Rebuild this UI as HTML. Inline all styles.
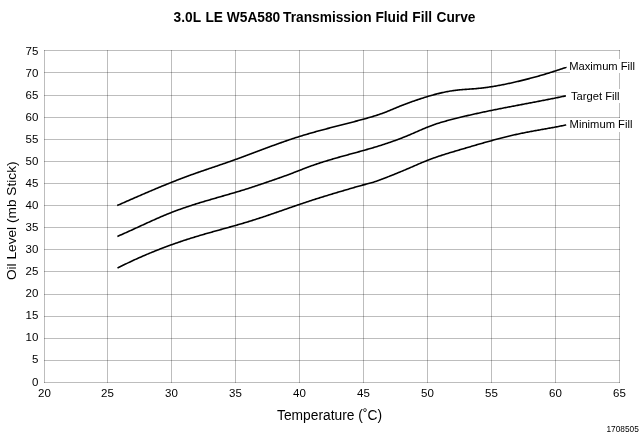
<!DOCTYPE html>
<html><head><meta charset="utf-8"><style>
html,body{margin:0;padding:0;background:#fff;}
body{width:640px;height:434px;overflow:hidden;}
svg{display:block;font-family:"Liberation Sans",sans-serif;will-change:transform;}
</style></head><body>
<svg width="640" height="434" viewBox="0 0 640 434">
<rect width="640" height="434" fill="#fff"/>
<g font-weight="bold" font-size="14.5" fill="#000"><text transform="translate(173.6,21.9) scale(0.947,1)">3.0L</text><text transform="translate(205.4,21.9) scale(0.947,1)">LE</text><text transform="translate(226.8,21.9) scale(0.947,1)">W5A580</text><text transform="translate(283.1,21.9) scale(0.947,1)">Transmission</text><text transform="translate(375.4,21.9) scale(0.947,1)">Fluid</text><text transform="translate(412.3,21.9) scale(0.947,1)">Fill</text><text transform="translate(436.5,21.9) scale(0.947,1)">Curve</text></g>
<g stroke="#000" stroke-opacity="0.26" stroke-width="1" fill="none" shape-rendering="crispEdges">
<line x1="44" y1="50.5" x2="620" y2="50.5"/>
<line x1="44" y1="72.5" x2="620" y2="72.5"/>
<line x1="44" y1="95.5" x2="620" y2="95.5"/>
<line x1="44" y1="117.5" x2="620" y2="117.5"/>
<line x1="44" y1="139.5" x2="620" y2="139.5"/>
<line x1="44" y1="161.5" x2="620" y2="161.5"/>
<line x1="44" y1="183.5" x2="620" y2="183.5"/>
<line x1="44" y1="205.5" x2="620" y2="205.5"/>
<line x1="44" y1="227.5" x2="620" y2="227.5"/>
<line x1="44" y1="249.5" x2="620" y2="249.5"/>
<line x1="44" y1="271.5" x2="620" y2="271.5"/>
<line x1="44" y1="294.5" x2="620" y2="294.5"/>
<line x1="44" y1="316.5" x2="620" y2="316.5"/>
<line x1="44" y1="338.5" x2="620" y2="338.5"/>
<line x1="44" y1="360.5" x2="620" y2="360.5"/>
<line x1="44" y1="382.5" x2="620" y2="382.5"/>
<line x1="44.5" y1="50" x2="44.5" y2="383"/>
<line x1="107.5" y1="50" x2="107.5" y2="383"/>
<line x1="171.5" y1="50" x2="171.5" y2="383"/>
<line x1="235.5" y1="50" x2="235.5" y2="383"/>
<line x1="299.5" y1="50" x2="299.5" y2="383"/>
<line x1="363.5" y1="50" x2="363.5" y2="383"/>
<line x1="427.5" y1="50" x2="427.5" y2="383"/>
<line x1="491.5" y1="50" x2="491.5" y2="383"/>
<line x1="555.5" y1="50" x2="555.5" y2="383"/>
<line x1="619.5" y1="50" x2="619.5" y2="383"/>
</g>
<g fill="#000" font-size="11.5">
<text x="38.4" y="55.20" text-anchor="end">75</text><text x="38.4" y="77.22" text-anchor="end">70</text><text x="38.4" y="99.24" text-anchor="end">65</text><text x="38.4" y="121.26" text-anchor="end">60</text><text x="38.4" y="143.28" text-anchor="end">55</text><text x="38.4" y="165.30" text-anchor="end">50</text><text x="38.4" y="187.32" text-anchor="end">45</text><text x="38.4" y="209.34" text-anchor="end">40</text><text x="38.4" y="231.36" text-anchor="end">35</text><text x="38.4" y="253.38" text-anchor="end">30</text><text x="38.4" y="275.40" text-anchor="end">25</text><text x="38.4" y="297.42" text-anchor="end">20</text><text x="38.4" y="319.44" text-anchor="end">15</text><text x="38.4" y="341.46" text-anchor="end">10</text><text x="38.4" y="363.48" text-anchor="end">5</text><text x="38.4" y="385.50" text-anchor="end">0</text>
<text x="44.5" y="397" text-anchor="middle">20</text><text x="107.5" y="397" text-anchor="middle">25</text><text x="171.5" y="397" text-anchor="middle">30</text><text x="235.5" y="397" text-anchor="middle">35</text><text x="299.5" y="397" text-anchor="middle">40</text><text x="363.5" y="397" text-anchor="middle">45</text><text x="427.5" y="397" text-anchor="middle">50</text><text x="491.5" y="397" text-anchor="middle">55</text><text x="555.5" y="397" text-anchor="middle">60</text><text x="619.5" y="397" text-anchor="middle">65</text>
</g>
<g fill="none" stroke="#000" stroke-width="1.6" stroke-linecap="butt" stroke-linejoin="round">
<path d="M117.2,205.50 L118.2,205.06 L119.2,204.62 L120.2,204.18 L121.2,203.74 L122.2,203.30 L123.2,202.86 L124.2,202.42 L125.2,201.98 L126.2,201.54 L127.2,201.10 L128.2,200.66 L129.2,200.22 L130.2,199.79 L131.2,199.35 L132.2,198.91 L133.2,198.47 L134.2,198.04 L135.2,197.60 L136.2,197.16 L137.2,196.73 L138.2,196.29 L139.2,195.86 L140.2,195.43 L141.2,194.99 L142.2,194.56 L143.2,194.13 L144.2,193.70 L145.2,193.27 L146.2,192.84 L147.2,192.41 L148.2,191.99 L149.2,191.56 L150.2,191.13 L151.2,190.71 L152.2,190.29 L153.2,189.86 L154.2,189.44 L155.2,189.02 L156.2,188.60 L157.2,188.19 L158.2,187.77 L159.2,187.35 L160.2,186.94 L161.2,186.53 L162.2,186.11 L163.2,185.70 L164.2,185.29 L165.2,184.89 L166.2,184.48 L167.2,184.07 L168.2,183.67 L169.2,183.27 L170.2,182.87 L171.2,182.47 L172.2,182.07 L173.2,181.68 L174.2,181.28 L175.2,180.89 L176.2,180.50 L177.2,180.11 L178.2,179.72 L179.2,179.34 L180.2,178.95 L181.2,178.57 L182.2,178.19 L183.2,177.81 L184.2,177.44 L185.2,177.06 L186.2,176.69 L187.2,176.32 L188.2,175.95 L189.2,175.59 L190.2,175.22 L191.2,174.86 L192.2,174.50 L193.2,174.14 L194.2,173.79 L195.2,173.43 L196.2,173.08 L197.2,172.73 L198.2,172.38 L199.2,172.03 L200.2,171.68 L201.2,171.34 L202.2,170.99 L203.2,170.65 L204.2,170.31 L205.2,169.96 L206.2,169.62 L207.2,169.28 L208.2,168.94 L209.2,168.60 L210.2,168.26 L211.2,167.92 L212.2,167.58 L213.2,167.24 L214.2,166.90 L215.2,166.57 L216.2,166.23 L217.2,165.89 L218.2,165.55 L219.2,165.20 L220.2,164.86 L221.2,164.52 L222.2,164.18 L223.2,163.83 L224.2,163.49 L225.2,163.14 L226.2,162.79 L227.2,162.45 L228.2,162.10 L229.2,161.74 L230.2,161.39 L231.2,161.04 L232.2,160.68 L233.2,160.32 L234.2,159.96 L235.2,159.60 L236.2,159.24 L237.2,158.88 L238.2,158.51 L239.2,158.15 L240.2,157.78 L241.2,157.41 L242.2,157.04 L243.2,156.67 L244.2,156.30 L245.2,155.93 L246.2,155.56 L247.2,155.19 L248.2,154.81 L249.2,154.44 L250.2,154.07 L251.2,153.69 L252.2,153.32 L253.2,152.94 L254.2,152.57 L255.2,152.20 L256.2,151.82 L257.2,151.45 L258.2,151.07 L259.2,150.70 L260.2,150.32 L261.2,149.95 L262.2,149.57 L263.2,149.20 L264.2,148.83 L265.2,148.45 L266.2,148.08 L267.2,147.71 L268.2,147.34 L269.2,146.97 L270.2,146.60 L271.2,146.24 L272.2,145.87 L273.2,145.50 L274.2,145.14 L275.2,144.78 L276.2,144.41 L277.2,144.05 L278.2,143.69 L279.2,143.34 L280.2,142.98 L281.2,142.63 L282.2,142.27 L283.2,141.92 L284.2,141.57 L285.2,141.22 L286.2,140.88 L287.2,140.53 L288.2,140.19 L289.2,139.85 L290.2,139.51 L291.2,139.18 L292.2,138.85 L293.2,138.51 L294.2,138.19 L295.2,137.86 L296.2,137.54 L297.2,137.22 L298.2,136.90 L299.2,136.58 L300.2,136.27 L301.2,135.96 L302.2,135.65 L303.2,135.35 L304.2,135.05 L305.2,134.75 L306.2,134.45 L307.2,134.15 L308.2,133.86 L309.2,133.57 L310.2,133.28 L311.2,133.00 L312.2,132.71 L313.2,132.43 L314.2,132.15 L315.2,131.87 L316.2,131.59 L317.2,131.32 L318.2,131.04 L319.2,130.77 L320.2,130.50 L321.2,130.23 L322.2,129.96 L323.2,129.69 L324.2,129.43 L325.2,129.16 L326.2,128.90 L327.2,128.63 L328.2,128.37 L329.2,128.11 L330.2,127.85 L331.2,127.59 L332.2,127.33 L333.2,127.07 L334.2,126.82 L335.2,126.56 L336.2,126.30 L337.2,126.04 L338.2,125.79 L339.2,125.53 L340.2,125.27 L341.2,125.02 L342.2,124.76 L343.2,124.50 L344.2,124.25 L345.2,123.99 L346.2,123.73 L347.2,123.48 L348.2,123.22 L349.2,122.96 L350.2,122.70 L351.2,122.44 L352.2,122.18 L353.2,121.92 L354.2,121.66 L355.2,121.39 L356.2,121.13 L357.2,120.86 L358.2,120.60 L359.2,120.33 L360.2,120.06 L361.2,119.79 L362.2,119.52 L363.2,119.25 L364.2,118.97 L365.2,118.70 L366.2,118.42 L367.2,118.14 L368.2,117.85 L369.2,117.57 L370.2,117.27 L371.2,116.98 L372.2,116.68 L373.2,116.38 L374.2,116.07 L375.2,115.76 L376.2,115.44 L377.2,115.12 L378.2,114.79 L379.2,114.45 L380.2,114.11 L381.2,113.76 L382.2,113.40 L383.2,113.04 L384.2,112.66 L385.2,112.28 L386.2,111.89 L387.2,111.50 L388.2,111.09 L389.2,110.69 L390.2,110.27 L391.2,109.86 L392.2,109.44 L393.2,109.02 L394.2,108.59 L395.2,108.17 L396.2,107.75 L397.2,107.33 L398.2,106.92 L399.2,106.51 L400.2,106.10 L401.2,105.70 L402.2,105.30 L403.2,104.91 L404.2,104.53 L405.2,104.15 L406.2,103.77 L407.2,103.40 L408.2,103.03 L409.2,102.67 L410.2,102.31 L411.2,101.95 L412.2,101.60 L413.2,101.25 L414.2,100.90 L415.2,100.55 L416.2,100.21 L417.2,99.87 L418.2,99.53 L419.2,99.20 L420.2,98.87 L421.2,98.54 L422.2,98.22 L423.2,97.90 L424.2,97.58 L425.2,97.26 L426.2,96.95 L427.2,96.65 L428.2,96.35 L429.2,96.05 L430.2,95.76 L431.2,95.47 L432.2,95.19 L433.2,94.91 L434.2,94.64 L435.2,94.37 L436.2,94.11 L437.2,93.85 L438.2,93.60 L439.2,93.35 L440.2,93.11 L441.2,92.88 L442.2,92.65 L443.2,92.43 L444.2,92.22 L445.2,92.01 L446.2,91.81 L447.2,91.62 L448.2,91.43 L449.2,91.25 L450.2,91.08 L451.2,90.92 L452.2,90.76 L453.2,90.62 L454.2,90.48 L455.2,90.35 L456.2,90.22 L457.2,90.11 L458.2,90.00 L459.2,89.90 L460.2,89.81 L461.2,89.72 L462.2,89.64 L463.2,89.56 L464.2,89.48 L465.2,89.41 L466.2,89.34 L467.2,89.27 L468.2,89.20 L469.2,89.13 L470.2,89.07 L471.2,89.00 L472.2,88.92 L473.2,88.85 L474.2,88.77 L475.2,88.69 L476.2,88.61 L477.2,88.52 L478.2,88.42 L479.2,88.32 L480.2,88.21 L481.2,88.10 L482.2,87.99 L483.2,87.87 L484.2,87.74 L485.2,87.61 L486.2,87.48 L487.2,87.34 L488.2,87.20 L489.2,87.05 L490.2,86.90 L491.2,86.75 L492.2,86.59 L493.2,86.43 L494.2,86.26 L495.2,86.09 L496.2,85.92 L497.2,85.74 L498.2,85.56 L499.2,85.38 L500.2,85.19 L501.2,85.00 L502.2,84.81 L503.2,84.61 L504.2,84.41 L505.2,84.21 L506.2,84.01 L507.2,83.80 L508.2,83.59 L509.2,83.38 L510.2,83.16 L511.2,82.94 L512.2,82.72 L513.2,82.50 L514.2,82.27 L515.2,82.05 L516.2,81.82 L517.2,81.58 L518.2,81.35 L519.2,81.11 L520.2,80.87 L521.2,80.63 L522.2,80.39 L523.2,80.14 L524.2,79.89 L525.2,79.64 L526.2,79.38 L527.2,79.13 L528.2,78.87 L529.2,78.61 L530.2,78.34 L531.2,78.08 L532.2,77.81 L533.2,77.54 L534.2,77.27 L535.2,76.99 L536.2,76.71 L537.2,76.43 L538.2,76.15 L539.2,75.87 L540.2,75.58 L541.2,75.29 L542.2,75.00 L543.2,74.70 L544.2,74.41 L545.2,74.11 L546.2,73.81 L547.2,73.50 L548.2,73.20 L549.2,72.89 L550.2,72.58 L551.2,72.27 L552.2,71.95 L553.2,71.63 L554.2,71.31 L555.2,70.99 L556.2,70.67 L557.2,70.34 L558.2,70.01 L559.2,69.68 L560.2,69.35 L561.2,69.01 L562.2,68.67 L563.2,68.33 L564.2,67.99 L565.2,67.64 L566.2,67.30 L566.5,67.19"/>
<path d="M117.4,236.40 L118.4,235.97 L119.4,235.54 L120.4,235.10 L121.4,234.66 L122.4,234.22 L123.4,233.78 L124.4,233.33 L125.4,232.89 L126.4,232.44 L127.4,231.99 L128.4,231.53 L129.4,231.08 L130.4,230.63 L131.4,230.17 L132.4,229.71 L133.4,229.25 L134.4,228.80 L135.4,228.34 L136.4,227.88 L137.4,227.41 L138.4,226.95 L139.4,226.49 L140.4,226.03 L141.4,225.57 L142.4,225.11 L143.4,224.65 L144.4,224.19 L145.4,223.73 L146.4,223.28 L147.4,222.82 L148.4,222.36 L149.4,221.91 L150.4,221.46 L151.4,221.00 L152.4,220.55 L153.4,220.11 L154.4,219.66 L155.4,219.22 L156.4,218.77 L157.4,218.33 L158.4,217.90 L159.4,217.46 L160.4,217.03 L161.4,216.60 L162.4,216.17 L163.4,215.75 L164.4,215.33 L165.4,214.91 L166.4,214.50 L167.4,214.09 L168.4,213.69 L169.4,213.29 L170.4,212.89 L171.4,212.49 L172.4,212.11 L173.4,211.72 L174.4,211.34 L175.4,210.96 L176.4,210.59 L177.4,210.22 L178.4,209.85 L179.4,209.49 L180.4,209.13 L181.4,208.78 L182.4,208.43 L183.4,208.08 L184.4,207.74 L185.4,207.39 L186.4,207.05 L187.4,206.72 L188.4,206.39 L189.4,206.06 L190.4,205.73 L191.4,205.40 L192.4,205.08 L193.4,204.76 L194.4,204.44 L195.4,204.13 L196.4,203.81 L197.4,203.50 L198.4,203.19 L199.4,202.89 L200.4,202.58 L201.4,202.28 L202.4,201.97 L203.4,201.67 L204.4,201.37 L205.4,201.08 L206.4,200.78 L207.4,200.48 L208.4,200.19 L209.4,199.90 L210.4,199.61 L211.4,199.31 L212.4,199.02 L213.4,198.73 L214.4,198.44 L215.4,198.16 L216.4,197.87 L217.4,197.58 L218.4,197.29 L219.4,197.00 L220.4,196.72 L221.4,196.43 L222.4,196.14 L223.4,195.86 L224.4,195.57 L225.4,195.28 L226.4,194.99 L227.4,194.70 L228.4,194.41 L229.4,194.12 L230.4,193.83 L231.4,193.54 L232.4,193.25 L233.4,192.96 L234.4,192.66 L235.4,192.37 L236.4,192.07 L237.4,191.77 L238.4,191.47 L239.4,191.17 L240.4,190.87 L241.4,190.57 L242.4,190.26 L243.4,189.95 L244.4,189.65 L245.4,189.33 L246.4,189.02 L247.4,188.71 L248.4,188.39 L249.4,188.07 L250.4,187.75 L251.4,187.42 L252.4,187.10 L253.4,186.77 L254.4,186.44 L255.4,186.11 L256.4,185.77 L257.4,185.44 L258.4,185.10 L259.4,184.76 L260.4,184.42 L261.4,184.08 L262.4,183.74 L263.4,183.40 L264.4,183.06 L265.4,182.71 L266.4,182.37 L267.4,182.03 L268.4,181.68 L269.4,181.34 L270.4,180.99 L271.4,180.65 L272.4,180.31 L273.4,179.96 L274.4,179.62 L275.4,179.27 L276.4,178.93 L277.4,178.58 L278.4,178.23 L279.4,177.88 L280.4,177.53 L281.4,177.18 L282.4,176.82 L283.4,176.47 L284.4,176.11 L285.4,175.75 L286.4,175.38 L287.4,175.02 L288.4,174.65 L289.4,174.28 L290.4,173.90 L291.4,173.52 L292.4,173.14 L293.4,172.76 L294.4,172.37 L295.4,171.98 L296.4,171.59 L297.4,171.20 L298.4,170.81 L299.4,170.42 L300.4,170.03 L301.4,169.64 L302.4,169.26 L303.4,168.87 L304.4,168.48 L305.4,168.10 L306.4,167.72 L307.4,167.34 L308.4,166.97 L309.4,166.60 L310.4,166.24 L311.4,165.87 L312.4,165.52 L313.4,165.17 L314.4,164.82 L315.4,164.47 L316.4,164.13 L317.4,163.79 L318.4,163.46 L319.4,163.13 L320.4,162.80 L321.4,162.48 L322.4,162.16 L323.4,161.85 L324.4,161.53 L325.4,161.22 L326.4,160.91 L327.4,160.61 L328.4,160.30 L329.4,160.00 L330.4,159.71 L331.4,159.41 L332.4,159.12 L333.4,158.82 L334.4,158.53 L335.4,158.25 L336.4,157.96 L337.4,157.68 L338.4,157.39 L339.4,157.11 L340.4,156.83 L341.4,156.55 L342.4,156.27 L343.4,156.00 L344.4,155.72 L345.4,155.44 L346.4,155.17 L347.4,154.90 L348.4,154.62 L349.4,154.35 L350.4,154.07 L351.4,153.80 L352.4,153.53 L353.4,153.25 L354.4,152.98 L355.4,152.71 L356.4,152.43 L357.4,152.16 L358.4,151.88 L359.4,151.61 L360.4,151.33 L361.4,151.05 L362.4,150.77 L363.4,150.49 L364.4,150.21 L365.4,149.93 L366.4,149.64 L367.4,149.36 L368.4,149.07 L369.4,148.78 L370.4,148.49 L371.4,148.20 L372.4,147.90 L373.4,147.61 L374.4,147.31 L375.4,147.00 L376.4,146.70 L377.4,146.39 L378.4,146.08 L379.4,145.77 L380.4,145.46 L381.4,145.14 L382.4,144.82 L383.4,144.50 L384.4,144.17 L385.4,143.84 L386.4,143.51 L387.4,143.18 L388.4,142.84 L389.4,142.50 L390.4,142.15 L391.4,141.81 L392.4,141.46 L393.4,141.10 L394.4,140.74 L395.4,140.38 L396.4,140.02 L397.4,139.65 L398.4,139.27 L399.4,138.89 L400.4,138.51 L401.4,138.13 L402.4,137.74 L403.4,137.34 L404.4,136.95 L405.4,136.54 L406.4,136.14 L407.4,135.73 L408.4,135.31 L409.4,134.89 L410.4,134.47 L411.4,134.04 L412.4,133.61 L413.4,133.18 L414.4,132.74 L415.4,132.31 L416.4,131.87 L417.4,131.43 L418.4,131.00 L419.4,130.57 L420.4,130.13 L421.4,129.70 L422.4,129.27 L423.4,128.85 L424.4,128.43 L425.4,128.01 L426.4,127.60 L427.4,127.19 L428.4,126.79 L429.4,126.40 L430.4,126.01 L431.4,125.63 L432.4,125.26 L433.4,124.89 L434.4,124.54 L435.4,124.19 L436.4,123.86 L437.4,123.53 L438.4,123.21 L439.4,122.90 L440.4,122.59 L441.4,122.29 L442.4,122.00 L443.4,121.71 L444.4,121.43 L445.4,121.15 L446.4,120.88 L447.4,120.60 L448.4,120.34 L449.4,120.07 L450.4,119.81 L451.4,119.55 L452.4,119.29 L453.4,119.04 L454.4,118.78 L455.4,118.53 L456.4,118.28 L457.4,118.03 L458.4,117.78 L459.4,117.53 L460.4,117.29 L461.4,117.05 L462.4,116.81 L463.4,116.57 L464.4,116.33 L465.4,116.09 L466.4,115.86 L467.4,115.63 L468.4,115.40 L469.4,115.17 L470.4,114.94 L471.4,114.71 L472.4,114.48 L473.4,114.26 L474.4,114.04 L475.4,113.82 L476.4,113.60 L477.4,113.38 L478.4,113.16 L479.4,112.94 L480.4,112.73 L481.4,112.51 L482.4,112.30 L483.4,112.09 L484.4,111.88 L485.4,111.67 L486.4,111.46 L487.4,111.25 L488.4,111.04 L489.4,110.84 L490.4,110.63 L491.4,110.43 L492.4,110.22 L493.4,110.02 L494.4,109.82 L495.4,109.62 L496.4,109.42 L497.4,109.22 L498.4,109.02 L499.4,108.82 L500.4,108.62 L501.4,108.43 L502.4,108.23 L503.4,108.04 L504.4,107.84 L505.4,107.65 L506.4,107.45 L507.4,107.26 L508.4,107.07 L509.4,106.87 L510.4,106.68 L511.4,106.49 L512.4,106.30 L513.4,106.11 L514.4,105.92 L515.4,105.73 L516.4,105.53 L517.4,105.34 L518.4,105.15 L519.4,104.96 L520.4,104.77 L521.4,104.59 L522.4,104.40 L523.4,104.21 L524.4,104.02 L525.4,103.83 L526.4,103.64 L527.4,103.45 L528.4,103.26 L529.4,103.07 L530.4,102.88 L531.4,102.69 L532.4,102.50 L533.4,102.31 L534.4,102.12 L535.4,101.93 L536.4,101.73 L537.4,101.54 L538.4,101.35 L539.4,101.16 L540.4,100.97 L541.4,100.77 L542.4,100.58 L543.4,100.38 L544.4,100.19 L545.4,100.00 L546.4,99.80 L547.4,99.60 L548.4,99.41 L549.4,99.21 L550.4,99.01 L551.4,98.81 L552.4,98.61 L553.4,98.41 L554.4,98.21 L555.4,98.01 L556.4,97.81 L557.4,97.60 L558.4,97.40 L559.4,97.19 L560.4,96.99 L561.4,96.78 L562.4,96.57 L563.4,96.36 L564.4,96.15 L565.4,95.94 L565.9,95.84"/>
<path d="M117.5,268.03 L118.5,267.53 L119.5,267.03 L120.5,266.53 L121.5,266.03 L122.5,265.54 L123.5,265.05 L124.5,264.56 L125.5,264.08 L126.5,263.60 L127.5,263.12 L128.5,262.64 L129.5,262.17 L130.5,261.70 L131.5,261.23 L132.5,260.77 L133.5,260.31 L134.5,259.85 L135.5,259.39 L136.5,258.94 L137.5,258.49 L138.5,258.04 L139.5,257.59 L140.5,257.15 L141.5,256.71 L142.5,256.28 L143.5,255.84 L144.5,255.41 L145.5,254.98 L146.5,254.56 L147.5,254.13 L148.5,253.71 L149.5,253.29 L150.5,252.88 L151.5,252.47 L152.5,252.06 L153.5,251.65 L154.5,251.25 L155.5,250.84 L156.5,250.44 L157.5,250.05 L158.5,249.65 L159.5,249.26 L160.5,248.87 L161.5,248.49 L162.5,248.10 L163.5,247.72 L164.5,247.34 L165.5,246.97 L166.5,246.59 L167.5,246.22 L168.5,245.85 L169.5,245.49 L170.5,245.12 L171.5,244.76 L172.5,244.40 L173.5,244.04 L174.5,243.69 L175.5,243.34 L176.5,242.99 L177.5,242.64 L178.5,242.30 L179.5,241.96 L180.5,241.62 L181.5,241.28 L182.5,240.95 L183.5,240.61 L184.5,240.28 L185.5,239.95 L186.5,239.63 L187.5,239.31 L188.5,238.99 L189.5,238.67 L190.5,238.35 L191.5,238.04 L192.5,237.72 L193.5,237.41 L194.5,237.11 L195.5,236.80 L196.5,236.50 L197.5,236.20 L198.5,235.90 L199.5,235.60 L200.5,235.31 L201.5,235.01 L202.5,234.72 L203.5,234.43 L204.5,234.14 L205.5,233.85 L206.5,233.56 L207.5,233.28 L208.5,232.99 L209.5,232.71 L210.5,232.43 L211.5,232.15 L212.5,231.87 L213.5,231.59 L214.5,231.31 L215.5,231.03 L216.5,230.75 L217.5,230.47 L218.5,230.19 L219.5,229.92 L220.5,229.64 L221.5,229.36 L222.5,229.08 L223.5,228.81 L224.5,228.53 L225.5,228.25 L226.5,227.97 L227.5,227.69 L228.5,227.42 L229.5,227.14 L230.5,226.86 L231.5,226.58 L232.5,226.29 L233.5,226.01 L234.5,225.73 L235.5,225.44 L236.5,225.16 L237.5,224.87 L238.5,224.58 L239.5,224.30 L240.5,224.00 L241.5,223.71 L242.5,223.42 L243.5,223.12 L244.5,222.83 L245.5,222.53 L246.5,222.23 L247.5,221.92 L248.5,221.62 L249.5,221.31 L250.5,221.00 L251.5,220.69 L252.5,220.38 L253.5,220.06 L254.5,219.74 L255.5,219.43 L256.5,219.10 L257.5,218.78 L258.5,218.46 L259.5,218.13 L260.5,217.80 L261.5,217.47 L262.5,217.14 L263.5,216.81 L264.5,216.47 L265.5,216.14 L266.5,215.80 L267.5,215.46 L268.5,215.12 L269.5,214.78 L270.5,214.44 L271.5,214.10 L272.5,213.76 L273.5,213.41 L274.5,213.07 L275.5,212.72 L276.5,212.38 L277.5,212.03 L278.5,211.69 L279.5,211.34 L280.5,210.99 L281.5,210.64 L282.5,210.30 L283.5,209.95 L284.5,209.60 L285.5,209.25 L286.5,208.91 L287.5,208.56 L288.5,208.21 L289.5,207.86 L290.5,207.52 L291.5,207.17 L292.5,206.82 L293.5,206.48 L294.5,206.13 L295.5,205.79 L296.5,205.44 L297.5,205.10 L298.5,204.76 L299.5,204.42 L300.5,204.08 L301.5,203.74 L302.5,203.40 L303.5,203.06 L304.5,202.73 L305.5,202.39 L306.5,202.06 L307.5,201.73 L308.5,201.40 L309.5,201.07 L310.5,200.74 L311.5,200.42 L312.5,200.09 L313.5,199.77 L314.5,199.45 L315.5,199.13 L316.5,198.81 L317.5,198.50 L318.5,198.18 L319.5,197.87 L320.5,197.55 L321.5,197.24 L322.5,196.93 L323.5,196.62 L324.5,196.32 L325.5,196.01 L326.5,195.70 L327.5,195.40 L328.5,195.09 L329.5,194.79 L330.5,194.49 L331.5,194.19 L332.5,193.89 L333.5,193.59 L334.5,193.29 L335.5,192.99 L336.5,192.69 L337.5,192.39 L338.5,192.10 L339.5,191.80 L340.5,191.50 L341.5,191.21 L342.5,190.91 L343.5,190.62 L344.5,190.32 L345.5,190.03 L346.5,189.74 L347.5,189.44 L348.5,189.15 L349.5,188.85 L350.5,188.56 L351.5,188.27 L352.5,187.97 L353.5,187.68 L354.5,187.39 L355.5,187.10 L356.5,186.81 L357.5,186.53 L358.5,186.24 L359.5,185.96 L360.5,185.69 L361.5,185.41 L362.5,185.14 L363.5,184.88 L364.5,184.62 L365.5,184.36 L366.5,184.10 L367.5,183.84 L368.5,183.57 L369.5,183.30 L370.5,183.03 L371.5,182.74 L372.5,182.45 L373.5,182.14 L374.5,181.83 L375.5,181.50 L376.5,181.16 L377.5,180.81 L378.5,180.45 L379.5,180.09 L380.5,179.72 L381.5,179.34 L382.5,178.96 L383.5,178.58 L384.5,178.19 L385.5,177.80 L386.5,177.41 L387.5,177.02 L388.5,176.62 L389.5,176.23 L390.5,175.83 L391.5,175.43 L392.5,175.04 L393.5,174.64 L394.5,174.23 L395.5,173.83 L396.5,173.43 L397.5,173.02 L398.5,172.61 L399.5,172.20 L400.5,171.79 L401.5,171.38 L402.5,170.96 L403.5,170.55 L404.5,170.13 L405.5,169.70 L406.5,169.28 L407.5,168.85 L408.5,168.42 L409.5,167.99 L410.5,167.56 L411.5,167.12 L412.5,166.68 L413.5,166.25 L414.5,165.81 L415.5,165.37 L416.5,164.94 L417.5,164.51 L418.5,164.07 L419.5,163.64 L420.5,163.22 L421.5,162.79 L422.5,162.37 L423.5,161.96 L424.5,161.54 L425.5,161.14 L426.5,160.74 L427.5,160.34 L428.5,159.95 L429.5,159.57 L430.5,159.19 L431.5,158.82 L432.5,158.46 L433.5,158.09 L434.5,157.74 L435.5,157.39 L436.5,157.04 L437.5,156.70 L438.5,156.36 L439.5,156.03 L440.5,155.70 L441.5,155.37 L442.5,155.05 L443.5,154.73 L444.5,154.41 L445.5,154.09 L446.5,153.78 L447.5,153.47 L448.5,153.17 L449.5,152.86 L450.5,152.56 L451.5,152.26 L452.5,151.96 L453.5,151.66 L454.5,151.36 L455.5,151.07 L456.5,150.77 L457.5,150.48 L458.5,150.18 L459.5,149.89 L460.5,149.59 L461.5,149.30 L462.5,149.00 L463.5,148.71 L464.5,148.41 L465.5,148.12 L466.5,147.82 L467.5,147.53 L468.5,147.23 L469.5,146.94 L470.5,146.65 L471.5,146.35 L472.5,146.06 L473.5,145.77 L474.5,145.48 L475.5,145.18 L476.5,144.89 L477.5,144.60 L478.5,144.31 L479.5,144.03 L480.5,143.74 L481.5,143.45 L482.5,143.17 L483.5,142.88 L484.5,142.60 L485.5,142.32 L486.5,142.03 L487.5,141.75 L488.5,141.48 L489.5,141.20 L490.5,140.92 L491.5,140.65 L492.5,140.37 L493.5,140.10 L494.5,139.83 L495.5,139.56 L496.5,139.30 L497.5,139.03 L498.5,138.77 L499.5,138.51 L500.5,138.25 L501.5,137.99 L502.5,137.74 L503.5,137.48 L504.5,137.23 L505.5,136.98 L506.5,136.73 L507.5,136.49 L508.5,136.25 L509.5,136.01 L510.5,135.77 L511.5,135.53 L512.5,135.30 L513.5,135.07 L514.5,134.84 L515.5,134.62 L516.5,134.40 L517.5,134.18 L518.5,133.96 L519.5,133.75 L520.5,133.54 L521.5,133.33 L522.5,133.12 L523.5,132.92 L524.5,132.72 L525.5,132.52 L526.5,132.33 L527.5,132.14 L528.5,131.95 L529.5,131.76 L530.5,131.57 L531.5,131.38 L532.5,131.20 L533.5,131.01 L534.5,130.83 L535.5,130.65 L536.5,130.47 L537.5,130.29 L538.5,130.11 L539.5,129.94 L540.5,129.76 L541.5,129.58 L542.5,129.40 L543.5,129.23 L544.5,129.05 L545.5,128.87 L546.5,128.69 L547.5,128.51 L548.5,128.33 L549.5,128.15 L550.5,127.97 L551.5,127.79 L552.5,127.61 L553.5,127.42 L554.5,127.24 L555.5,127.05 L556.5,126.86 L557.5,126.67 L558.5,126.47 L559.5,126.28 L560.5,126.08 L561.5,125.88 L562.5,125.68 L563.5,125.47 L564.5,125.27 L565.5,125.06 L566.2,124.91"/>
</g>
<g fill="#fff">
<rect x="570" y="59" width="70" height="14"/>
<rect x="566" y="89" width="56" height="14"/>
<rect x="568" y="118" width="68" height="14"/>
</g>
<g fill="#000" font-size="11.2">
<text x="569.2" y="70">Maximum Fill</text>
<text x="571" y="99.9">Target Fill</text>
<text x="569.6" y="128.2">Minimum Fill</text>
</g>
<text x="277" y="419.9" font-size="13.8" fill="#000">Temperature (˚C)</text>
<text transform="translate(16.2,280.1) rotate(-90)" font-size="13.7" fill="#000">Oil Level (mb Stick)</text>
<text x="606.5" y="432.3" font-size="8.3" fill="#000">1708505</text>
</svg>
</body></html>
